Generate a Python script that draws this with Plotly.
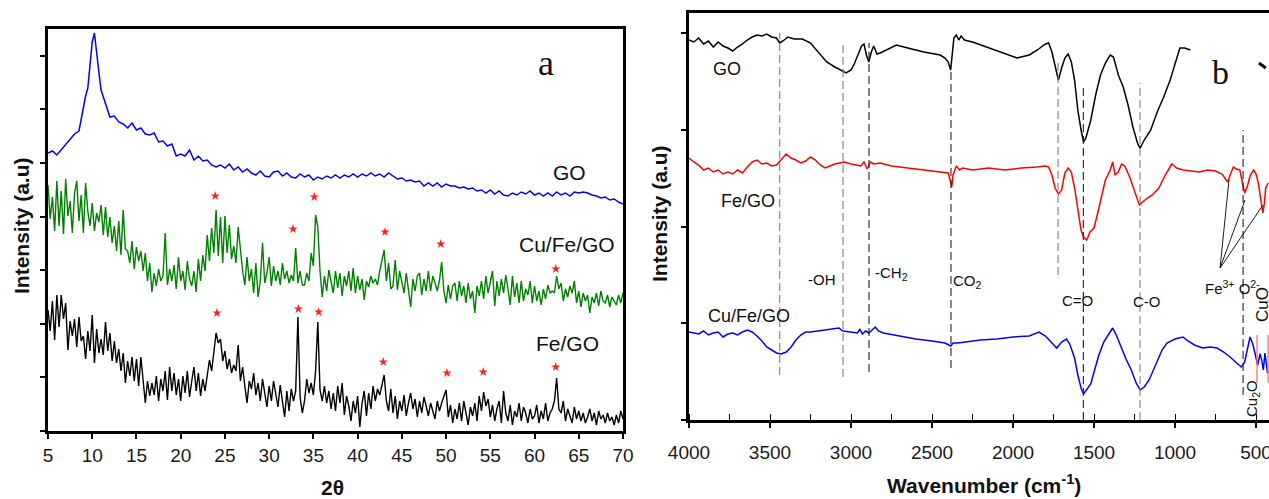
import numpy as np
import plotly.graph_objects as go

# ---------------- XRD (panel a) ----------------
xrd_2theta = np.round(np.arange(5, 70.001, 0.25), 2)
go_2theta = np.concatenate([np.arange(5, 9, 0.5), np.arange(9, 11, 0.25), np.arange(11, 70.001, 0.5)])

xrd_go = [278, 280, 276, 281, 286, 292, 297, 300,
          325, 335, 343, 365, 389, 398, 381, 359,
          341, 327, 314, 315, 309, 307, 303, 308, 301, 303, 297, 296, 298, 289,
          290, 285, 287, 275, 277, 275, 281, 271, 275, 270, 271, 266, 264, 266,
          263, 267, 261, 264, 259, 262, 258, 256, 260, 255, 254, 259, 260, 255,
          258, 254, 253, 257, 254, 256, 251, 254, 252, 255, 253, 256, 253, 256,
          254, 257, 254, 257, 255, 258, 255, 257, 254, 258, 255, 252, 253, 250,
          251, 249, 250, 245, 248, 245, 248, 244, 247, 245, 245, 243, 244, 242,
          243, 240, 241, 238, 241, 237, 240, 236, 235, 238, 236, 239, 237, 240,
          236, 238, 235, 238, 235, 239, 236, 238, 235, 239, 238, 239, 238, 236,
          235, 233, 234, 231, 232, 229, 227]

xrd_cufego = [
    246, 212, 234, 200, 250, 205, 240, 197, 252, 215, 230, 198, 238, 250, 210, 236,
    198, 248, 220, 205, 228, 200, 218, 209, 226, 196, 224, 194, 214, 188, 205, 180,
    210, 176, 221, 182, 180, 168, 190, 162, 184, 170, 180, 160, 178, 150, 168, 139,
    158, 145, 162, 150, 155, 198, 146, 162, 150, 166, 142, 174, 150, 160, 141, 170,
    152, 145, 160, 139, 172, 150, 176, 160, 196, 170, 203, 178, 221, 175, 214, 168,
    215, 178, 206, 172, 185, 168, 204, 180, 160, 146, 174, 150, 162, 138, 168, 134,
    150, 188, 148, 158, 174, 145, 165, 150, 160, 146, 168, 152, 160, 148, 156, 150,
    183, 148, 160, 146, 146, 158, 150, 178, 165, 216, 204, 160, 134, 155, 140, 161,
    148, 138, 160, 143, 158, 135, 155, 145, 160, 140, 163, 138, 155, 141, 152, 131,
    150, 144, 155, 148, 152, 146, 160, 170, 181, 150, 168, 142, 145, 171, 141, 160,
    150, 138, 158, 140, 124, 152, 140, 155, 158, 136, 152, 140, 160, 140, 155, 148,
    140, 150, 169, 140, 128, 146, 132, 145, 148, 130, 150, 135, 145, 128, 148, 132,
    140, 118, 145, 135, 150, 132, 155, 138, 148, 160, 125, 150, 135, 152, 138, 156,
    142, 126, 155, 134, 148, 128, 150, 130, 142, 136, 150, 128, 145, 130, 140, 126,
    142, 132, 146, 138, 140, 138, 155, 142, 148, 130, 142, 134, 145, 138, 150, 128,
    140, 124, 138, 130, 136, 118, 134, 128, 138, 125, 140, 130, 128, 136, 124, 134,
    130, 126, 136, 128, 138]

xrd_fego = [
    121, 100, 130, 91, 136, 104, 136, 112, 128, 81, 110, 95, 112, 84, 114, 90,
    95, 72, 100, 80, 116, 68, 102, 78, 92, 76, 109, 80, 98, 70, 90, 68,
    82, 60, 78, 48, 70, 55, 74, 50, 72, 45, 74, 52, 28, 50, 35, 48,
    36, 55, 30, 52, 40, 60, 31, 64, 40, 58, 36, 52, 30, 55, 38, 60,
    34, 50, 64, 40, 58, 35, 52, 40, 55, 71, 60, 82, 98, 88, 92, 70,
    80, 62, 72, 58, 66, 60, 86, 50, 64, 45, 28, 50, 42, 58, 36, 48,
    30, 52, 40, 24, 45, 30, 50, 38, 24, 46, 30, 14, 40, 20, 42, 30,
    40, 114, 34, 18, 30, 52, 38, 48, 36, 60, 109, 41, 30, 45, 28, 40,
    22, 38, 20, 45, 28, 48, 16, 35, 25, 10, 30, 18, 35, 4, 28, 40,
    15, 38, 22, 45, 30, 42, 36, 45, 56, 30, 20, 42, 18, 35, 12, 30,
    20, 36, 15, 28, 38, 22, 32, 14, 30, 18, 34, 25, 15, 28, 20, 12,
    30, 20, 28, 35, 41, 14, 26, 8, 22, 12, 28, 10, 30, 18, 6, 24,
    15, 28, 10, 35, 20, 39, 25, 32, 14, 26, 10, 22, 30, 8, 40, 18,
    10, 26, 6, 20, 14, 28, 10, 24, 18, 8, 22, 12, 15, 26, 8, 20,
    12, 28, 10, 18, 22, 30, 53, 22, 18, 30, 10, 22, 16, 8, 24, 12,
    20, 10, 18, 8, 14, 22, 10, 18, 6, 20, 12, 16, 8, 18, 10, 14,
    6, 16, 8, 20, 12]

star_cufego_x = [23.9, 32.7, 35.1, 43.1, 49.4, 62.4]
star_cufego_y = [235, 202, 234, 199, 187, 162]
star_fego_x = [24.1, 33.3, 35.6, 42.9, 50.1, 54.2, 62.4]
star_fego_y = [118, 122, 119, 69, 58, 59, 64]

# ---------------- FTIR (panel b) ----------------
ftir_go = [(4000, 380), (3970, 378), (3940, 382), (3910, 376), (3880, 379), (3850, 373), (3820, 378),
           (3790, 374), (3760, 372), (3730, 369), (3700, 373), (3670, 376), (3640, 380), (3610, 383),
           (3580, 385), (3550, 384), (3520, 386), (3490, 383), (3460, 382), (3440, 377), (3420, 379),
           (3390, 383), (3350, 381), (3300, 381), (3250, 377), (3200, 367), (3150, 358), (3100, 353),
           (3050, 349), (3030, 347), (3000, 350), (2980, 356), (2950, 368), (2935, 374), (2920, 376),
           (2905, 365), (2890, 358), (2875, 368), (2860, 374), (2840, 366), (2820, 367), (2780, 370),
           (2720, 375), (2650, 372), (2550, 368), (2450, 365), (2420, 362), (2400, 358), (2385, 350),
           (2375, 366), (2365, 382), (2350, 385), (2335, 380), (2320, 384), (2300, 380), (2250, 378),
           (2150, 372), (2050, 366), (1975, 362), (1900, 365), (1850, 370), (1800, 376), (1780, 377),
           (1760, 368), (1740, 355), (1720, 340), (1700, 352), (1680, 362), (1660, 366), (1640, 358),
           (1620, 340), (1600, 310), (1580, 290), (1565, 278), (1550, 282), (1520, 300), (1490, 325),
           (1460, 345), (1430, 357), (1400, 365), (1380, 363), (1350, 345), (1320, 333), (1290, 315),
           (1260, 293), (1230, 276), (1215, 272), (1190, 280), (1150, 290), (1110, 308), (1070, 323),
           (1030, 340), (1000, 356), (970, 372), (940, 372), (905, 370)]

ftir_fego = [(4000, 262), (3970, 258), (3940, 255), (3910, 250), (3880, 252), (3850, 248), (3820, 250),
             (3790, 246), (3760, 248), (3730, 246), (3700, 250), (3670, 247), (3640, 253), (3610, 258),
             (3580, 260), (3550, 256), (3520, 257), (3490, 254), (3460, 255), (3430, 260), (3400, 266),
             (3370, 262), (3340, 260), (3310, 257), (3280, 259), (3250, 263), (3220, 260), (3190, 255),
             (3160, 252), (3130, 254), (3100, 256), (3070, 257), (3040, 258), (3000, 256), (2970, 255),
             (2940, 254), (2920, 258), (2900, 251), (2880, 258), (2860, 256), (2820, 257), (2750, 254),
             (2650, 252), (2550, 250), (2450, 248), (2400, 247), (2385, 238), (2378, 233), (2370, 245),
             (2350, 254), (2330, 250), (2310, 252), (2250, 250), (2150, 252), (2050, 250), (1950, 252),
             (1850, 253), (1800, 254), (1780, 253), (1760, 245), (1740, 232), (1720, 226), (1700, 230),
             (1680, 247), (1660, 252), (1640, 248), (1620, 232), (1600, 210), (1580, 190), (1565, 183),
             (1545, 180), (1525, 188), (1500, 192), (1480, 205), (1460, 220), (1430, 240), (1400, 250),
             (1385, 258), (1370, 245), (1350, 248), (1330, 256), (1310, 254), (1280, 243), (1250, 228),
             (1220, 215), (1200, 218), (1170, 222), (1140, 225), (1100, 232), (1060, 245), (1020, 256),
             (990, 252), (950, 250), (900, 249), (850, 248), (800, 250), (750, 249), (710, 246),
             (690, 242), (675, 238), (660, 245), (640, 253), (620, 251), (600, 250), (585, 238),
             (570, 227), (555, 233), (535, 245), (515, 250), (500, 246), (485, 236), (470, 222),
             (458, 207), (450, 215), (440, 232), (425, 237)]

ftir_cufego = [(4000, 88), (3970, 87), (3940, 86), (3910, 89), (3880, 85), (3850, 87), (3820, 88),
               (3790, 83), (3760, 86), (3730, 87), (3700, 85), (3670, 88), (3640, 90), (3610, 88),
               (3580, 84), (3550, 79), (3520, 73), (3490, 70), (3460, 67), (3430, 66), (3400, 68),
               (3370, 73), (3340, 80), (3310, 85), (3280, 88), (3250, 88), (3200, 89), (3150, 90),
               (3100, 91), (3075, 92), (3050, 89), (3000, 88), (2960, 87), (2945, 91), (2930, 86),
               (2910, 89), (2890, 87), (2870, 90), (2850, 93), (2830, 89), (2800, 87), (2700, 84),
               (2600, 81), (2500, 79), (2420, 77), (2385, 74), (2370, 77), (2340, 77), (2300, 78),
               (2200, 80), (2100, 81), (2000, 83), (1900, 84), (1840, 88), (1800, 84), (1760, 77),
               (1730, 72), (1700, 78), (1670, 81), (1650, 76), (1620, 62), (1600, 45), (1580, 32),
               (1565, 26), (1545, 30), (1520, 36), (1500, 48), (1470, 65), (1440, 78), (1410, 86),
               (1385, 92), (1360, 84), (1330, 72), (1300, 60), (1270, 50), (1240, 37), (1215, 30),
               (1190, 33), (1160, 40), (1120, 55), (1080, 70), (1050, 77), (1000, 81), (951, 83),
               (920, 79), (880, 75), (830, 72), (780, 73), (740, 72), (700, 68), (660, 63),
               (620, 57), (590, 53), (570, 58), (555, 68), (537, 83), (520, 76), (505, 65),
               (490, 55), (475, 66), (465, 60), (455, 50), (445, 67), (430, 48), (420, 47)]

band_lines_wn = [3440, 3049, 2889, 2383, 1722, 1566, 1216, 580]
band_lines_top = [387, 377, 377, 353, 360, 332, 337, 290]
band_lines_bot = [45, 43, 48, 52, 145, 0, 0, 25]
band_lines_col = ['#7f7f7f', '#7f7f7f', '#222222', '#222222', '#7f7f7f', '#222222', '#7f7f7f', '#222222']
cuo_lines_wn = [494, 426]

SANS = 'Liberation Sans'
SERIF = 'Liberation Serif'

fig = go.Figure()

fig.add_trace(go.Scatter(x=go_2theta, y=xrd_go, mode='lines', line=dict(color='#0000ff', width=1.5),
                         xaxis='x', yaxis='y', showlegend=False))
fig.add_trace(go.Scatter(x=xrd_2theta, y=xrd_cufego, mode='lines', line=dict(color='#008000', width=1.4),
                         xaxis='x', yaxis='y', showlegend=False))
fig.add_trace(go.Scatter(x=xrd_2theta, y=xrd_fego, mode='lines', line=dict(color='#000000', width=1.4),
                         xaxis='x', yaxis='y', showlegend=False))
fig.add_trace(go.Scatter(x=star_cufego_x + star_fego_x, y=star_cufego_y + star_fego_y, mode='markers',
                         marker=dict(symbol='star', size=7, color='#ff2020'),
                         xaxis='x', yaxis='y', showlegend=False))

for data, col in [(ftir_go, '#000000'), (ftir_fego, '#ff0000'), (ftir_cufego, '#0000ff')]:
    fig.add_trace(go.Scatter(x=[p[0] for p in data], y=[p[1] for p in data], mode='lines',
                             line=dict(color=col, width=1.5), xaxis='x2', yaxis='y2', showlegend=False))

shapes = []
for wn, top, bot, col in zip(band_lines_wn, band_lines_top, band_lines_bot, band_lines_col):
    shapes.append(dict(type='line', xref='x2', yref='y2', x0=wn, x1=wn, y0=bot, y1=top,
                       line=dict(color=col, width=1.1, dash='8px,4px')))
for wn in cuo_lines_wn:
    shapes.append(dict(type='line', xref='x2', yref='y2', x0=wn, x1=wn, y0=37, y1=85,
                       line=dict(color='#ff7070', width=1.3)))
# pointer lines for Fe3+ O2- label
for ex, ey in [(667, 240), (568, 220), (457, 215)]:
    shapes.append(dict(type='line', xref='x2', yref='y2', x0=722, y0=152, x1=ex, y1=ey,
                       line=dict(color='#000000', width=0.9)))
shapes.append(dict(type='line', xref='x2', yref='y2', x0=482, y0=357, x1=440, y1=352,
                   line=dict(color='#000000', width=3)))

ann = []
def label(text, x, y, xref, yref, size=19, family=SANS, angle=0, color='#111111'):
    ann.append(dict(text=text, x=x, y=y, xref=xref, yref=yref, showarrow=False,
                    font=dict(family=family, size=size, color=color), textangle=angle,
                    xanchor='center', yanchor='middle'))

label('a', 61.3, 368, 'x', 'y', size=36, family=SERIF)
label('GO', 64.0, 258, 'x', 'y', size=21)
label('Cu/Fe/GO', 63.7, 186, 'x', 'y', size=21)
label('Fe/GO', 63.7, 88, 'x', 'y', size=21)

label('GO', 3765, 351, 'x2', 'y2', size=18)
label('Fe/GO', 3636, 219, 'x2', 'y2', size=18)
label('Cu/Fe/GO', 3630, 104, 'x2', 'y2', size=18)
label('-OH', 3179, 141, 'x2', 'y2', size=15)
label('-CH<sub>2</sub>', 2750, 147, 'x2', 'y2', size=15)
label('CO<sub>2</sub>', 2278, 139, 'x2', 'y2', size=15)
label('C=O', 1605, 120, 'x2', 'y2', size=15)
label('C-O', 1173, 119, 'x2', 'y2', size=15)
label('Fe<sup>3+</sup> O<sup>2-</sup>', 648, 133, 'x2', 'y2', size=15)
label('CuO', 463, 115, 'x2', 'y2', size=17, angle=-90)
label('Cu<sub>2</sub>O', 525, 22, 'x2', 'y2', size=15, angle=-90)
label('b', 722, 348, 'x2', 'y2', size=34, family=SERIF)

label('<b>Intensity (a.u)</b>', 21 / 1269, (499 - 226) / 499, 'paper', 'paper', size=21, angle=-90)
label('<b>Intensity (a.u)</b>', 659 / 1269, (499 - 214) / 499, 'paper', 'paper', size=21, angle=-90)
label('<b>2θ</b>', 332 / 1269, (499 - 487) / 499, 'paper', 'paper', size=21)
label('<b>Wavenumber (cm<sup>-1</sup>)</b>', 984 / 1269, (499 - 484) / 499, 'paper', 'paper', size=21)

tickfont = dict(family=SANS, size=19, color='#1a1a1a')
fig.update_layout(
    width=1269, height=499, margin=dict(l=0, r=0, t=0, b=0, pad=0, autoexpand=False),
    paper_bgcolor='white', plot_bgcolor='white', showlegend=False,
    xaxis=dict(domain=[48 / 1269, 623 / 1269], range=[5, 70], tickvals=list(range(5, 71, 5)),
               ticks='outside', ticklen=5, tickwidth=1.5, tickcolor='black', automargin=False,
               showline=True, linewidth=3, linecolor='black', mirror=True,
               showgrid=False, zeroline=False, tickfont=tickfont, anchor='y'),
    yaxis=dict(domain=[(499 - 431) / 499, (499 - 29) / 499], range=[0, 402], tick0=0, dtick=53.6,
               ticks='outside', ticklen=5, tickwidth=1.5, tickcolor='black', showticklabels=False,
               showline=True, linewidth=3, linecolor='black', mirror=True, automargin=False,
               showgrid=False, zeroline=False, anchor='x'),
    xaxis2=dict(domain=[689 / 1269, 1.0], range=[4000, 420],
                tickvals=[4000, 3500, 3000, 2500, 2000, 1500, 1000, 500],
                ticktext=['4000', '3500', '3000', '2500', '2000', '1500', '1000', '500'],
                ticks='outside', ticklen=5, tickwidth=1.5, tickcolor='black', automargin=False,
                minor=dict(tick0=0, dtick=250, ticks='inside', ticklen=6, tickwidth=1.2, tickcolor='black'),
                showline=True, linewidth=3, linecolor='black', mirror=True, ticklabelstandoff=8,
                ticklabeloverflow='allow',
                showgrid=False, zeroline=False, tickfont=tickfont, anchor='y2'),
    yaxis2=dict(domain=[(499 - 420) / 499, (499 - 13) / 499], range=[0, 407], tick0=0, dtick=96.75,
                ticks='outside', ticklen=5, tickwidth=1.5, tickcolor='black', showticklabels=False,
                showline=True, linewidth=3, linecolor='black', mirror=False, automargin=False,
                showgrid=False, zeroline=False, anchor='x2'),
    shapes=shapes, annotations=ann,
)

fig.write_html('out.html')
